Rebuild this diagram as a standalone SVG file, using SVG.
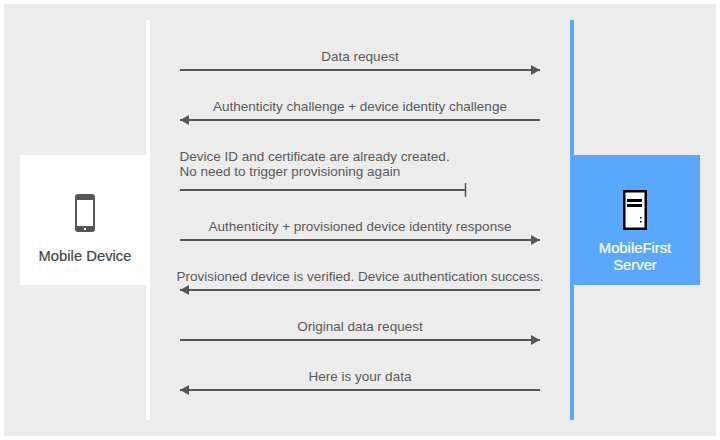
<svg xmlns="http://www.w3.org/2000/svg" width="720" height="440" viewBox="0 0 720 440">
<style>
text{font-family:"Liberation Sans",sans-serif;font-size:13.500px;fill:#5a5a5a}
.m{text-anchor:middle}
.c line{stroke:#565656;stroke-width:2}
.w{fill:#fff;font-size:14.800px;stroke:#fff;stroke-width:.2px}
.b{fill:#444;font-size:14.800px;stroke:#444;stroke-width:.2px}
</style>
<defs>
<marker id="a" markerUnits="userSpaceOnUse" markerWidth="10" markerHeight="10" refX="9" refY="5" orient="auto-start-reverse"><path d="M0 0L9 5L0 10Z" fill="#565656"/></marker>
</defs>
<rect width="720" height="440" fill="#fff"/>
<rect x="4" y="4" width="712" height="432" fill="#ececec"/>
<rect x="146" y="20" width="4" height="400" fill="#fff"/>
<rect x="570" y="20" width="4" height="400" fill="#5aa8fd"/>
<g id="mobile">
<rect x="20" y="155" width="126" height="130" fill="#fff"/>
<rect x="75" y="194" width="20" height="38" rx="3" fill="#565656"/>
<rect x="77" y="200" width="16" height="26" fill="#fff"/>
<rect x="84" y="228" width="2" height="2" fill="#fff"/>
<text class="m b" x="85" y="261">Mobile Device</text>
</g>
<g id="server">
<rect x="574" y="155" width="126" height="130" fill="#5aa8fd"/>
<rect x="624.250" y="191.250" width="21.500" height="37.500" fill="#fff" stroke="#000" stroke-width="2.500"/>
<rect x="627" y="199" width="15" height="3" fill="#000"/>
<rect x="627" y="204" width="15" height="3" fill="#000"/>
<rect x="640" y="217" width="1.500" height="1.500" fill="#000"/>
<rect x="640" y="221" width="1.500" height="1.500" fill="#000"/>
<text class="m w" x="635" y="253">MobileFirst</text>
<text class="m w" x="635" y="270">Server</text>
</g>
<g id="connectors" class="c">
<line x1="180" y1="70" x2="540" y2="70" marker-end="url(#a)"/>
<line x1="540" y1="120" x2="180" y2="120" marker-end="url(#a)"/>
<line x1="180" y1="190" x2="465" y2="190"/>
<line x1="465.500" y1="183" x2="465.500" y2="197" style="stroke-width:1.500"/>
<line x1="180" y1="240" x2="540" y2="240" marker-end="url(#a)"/>
<line x1="540" y1="290" x2="180" y2="290" marker-end="url(#a)"/>
<line x1="180" y1="340" x2="540" y2="340" marker-end="url(#a)"/>
<line x1="540" y1="390" x2="180" y2="390" marker-end="url(#a)"/>
</g>
<g id="labels">
<text class="m" x="360" y="61">Data request</text>
<text class="m" x="360" y="111">Authenticity challenge + device identity challenge</text>
<text x="179.500" y="161">Device ID and certificate are already created.</text>
<text x="179.500" y="176">No need to trigger provisioning again</text>
<text class="m" x="360" y="231">Authenticity + provisioned device identity response</text>
<text class="m" x="360" y="281">Provisioned device is verified. Device authentication success.</text>
<text class="m" x="360" y="331">Original data request</text>
<text class="m" x="360" y="381">Here is your data</text>
</g>
</svg>
